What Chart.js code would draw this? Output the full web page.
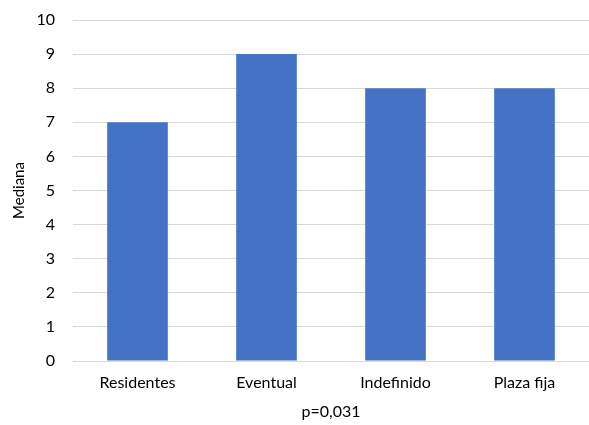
<!DOCTYPE html>
<html>
<head>
<meta charset="utf-8">
<script src="https://cdn.jsdelivr.net/npm/chart.js@4"></script>
<style>
  html, body { margin: 0; padding: 0; background: #fff; }
  #wrap { width: 589px; height: 425px; }
</style>
</head>
<body>
<div id="wrap"><canvas id="chart"></canvas></div>
<script>
// chart data
const categories = ['Residentes', 'Eventual', 'Indefinido', 'Plaza fija'];
const medianValues = [7, 9, 8, 8];
const yTitle = 'Mediana';
const xTitle = 'p=0,031';

const ctx = document.getElementById('chart').getContext('2d');
const labelFont = { family: 'Lato', size: 16 };

new Chart(ctx, {
    type: 'bar',
    data: {
        labels: categories,
        datasets: [{
            label: yTitle,
            data: medianValues,
            backgroundColor: '#4472C4',
            borderWidth: 0,
            barPercentage: 0.47,
            categoryPercentage: 1
        }]
    },
    options: {
        responsive: true,
        maintainAspectRatio: false,
        animation: false,
        layout: {
            padding: { top: 20, right: 0, bottom: 0, left: 0 }
        },
        plugins: {
            legend: { display: false },
            tooltip: { enabled: false }
        },
        scales: {
            y: {
                min: 0,
                max: 10,
                ticks: {
                    stepSize: 1,
                    padding: 18,
                    color: '#000',
                    font: labelFont
                },
                grid: {
                    color: '#d9d9d9',
                    drawTicks: false
                },
                border: { display: false },
                title: {
                    display: true,
                    text: yTitle,
                    color: '#000',
                    font: { family: 'Lato', size: 15 },
                    padding: { top: 10, bottom: 0 }
                },
                afterFit: scale => {
                    scale.width = 73;
                    // keep the top edge where the reference has it
                    scale.paddingTop = 0;
                    scale.paddingBottom = 0;
                }
            },
            x: {
                ticks: {
                    padding: 12,
                    color: '#000',
                    font: labelFont
                },
                grid: { display: false, drawTicks: false },
                border: { display: false },
                title: {
                    display: true,
                    text: xTitle,
                    color: '#000',
                    font: labelFont,
                    padding: { top: 6 }
                },
                afterFit: scale => { scale.height = 64; }
            }
        }
    }
});
</script>
</body>
</html>
